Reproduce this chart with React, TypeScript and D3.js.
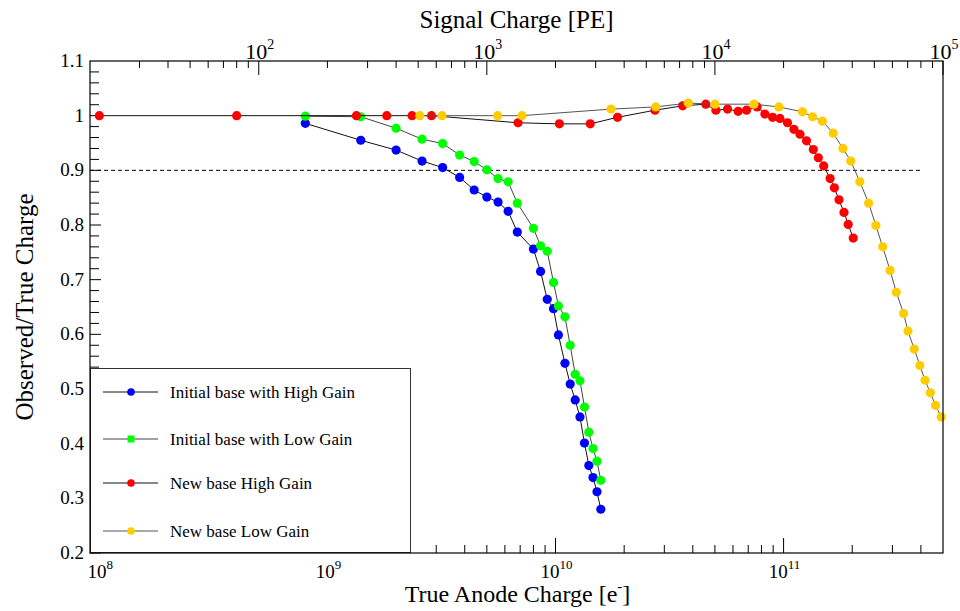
import * as d3 from "d3";
import React from "react";

// shared charge points for the initial base runs [e-]
const initialCharge = [8.0e8, 1.4e9, 2.0e9, 2.6e9, 3.2e9, 3.8e9, 4.4e9, 5.0e9, 5.6e9, 6.2e9, 6.8e9, 8.0e9, 8.6e9, 9.2e9, 9.8e9, 1.03e10, 1.1e10, 1.16e10, 1.22e10, 1.28e10, 1.34e10, 1.4e10, 1.46e10, 1.52e10, 1.58e10];
const initialHighGain = [0.986, 0.955, 0.937, 0.917, 0.905, 0.887, 0.864, 0.851, 0.842, 0.825, 0.787, 0.756, 0.715, 0.664, 0.647, 0.599, 0.547, 0.509, 0.48, 0.449, 0.401, 0.36, 0.338, 0.312, 0.28];
const initialLowGain = [0.999, 0.998, 0.977, 0.957, 0.949, 0.928, 0.916, 0.901, 0.885, 0.879, 0.84, 0.794, 0.762, 0.752, 0.695, 0.652, 0.632, 0.58, 0.527, 0.515, 0.467, 0.421, 0.391, 0.368, 0.333];

const newHighCharge = [1.0e8, 4.0e8, 1.34e9, 1.82e9, 2.35e9, 2.86e9, 6.85e9, 1.04e10, 1.42e10, 1.87e10, 2.73e10, 3.61e10, 4.56e10, 5.05e10, 5.68e10, 6.32e10, 6.88e10, 7.66e10, 8.28e10, 8.95e10, 9.64e10, 1.04e11, 1.11e11, 1.18e11, 1.26e11, 1.35e11, 1.42e11, 1.5e11, 1.6e11, 1.67e11, 1.75e11, 1.84e11, 1.92e11, 2.02e11];
const newHighGain = [1.0, 1.0, 1.0, 1.0, 1.0, 1.0, 0.987, 0.985, 0.985, 0.997, 1.01, 1.018, 1.021, 1.01, 1.012, 1.008, 1.01, 1.016, 1.003, 0.997, 0.995, 0.987, 0.975, 0.966, 0.954, 0.938, 0.923, 0.908, 0.885, 0.868, 0.846, 0.823, 0.801, 0.776];

const newLowCharge = [2.54e9, 3.18e9, 5.58e9, 7.13e9, 1.75e10, 2.75e10, 3.82e10, 5.0e10, 7.41e10, 9.54e10, 1.21e11, 1.34e11, 1.48e11, 1.65e11, 1.82e11, 1.97e11, 2.16e11, 2.36e11, 2.54e11, 2.72e11, 2.93e11, 3.12e11, 3.36e11, 3.51e11, 3.74e11, 3.96e11, 4.17e11, 4.4e11, 4.64e11, 4.91e11];
const newLowGain = [1.0, 1.0, 1.0, 1.0, 1.012, 1.016, 1.023, 1.021, 1.021, 1.016, 1.007, 0.998, 0.99, 0.968, 0.94, 0.917, 0.879, 0.84, 0.799, 0.76, 0.717, 0.677, 0.638, 0.606, 0.573, 0.543, 0.516, 0.493, 0.47, 0.449];

const legendNames = ["Initial base with High Gain", "Initial base with Low Gain", "New base High Gain", "New base Low Gain"];
const bottomDecades = [8, 9, 10, 11];
const topDecades = [2, 3, 4, 5];
const yLabels = [0.2, 0.3, 0.4, 0.5, 0.6, 0.7, 0.8, 0.9, 1, 1.1];
const thresholdLevel = 0.9;

const FONT = "'Liberation Serif', 'DejaVu Serif', serif";
const left = 90, right = 943, top = 61, bottom = 553;

function App() {
    const x = d3.scaleLog().domain([9.1e7, 5e11]).range([left, right]);
    const xTop = d3.scaleLog().domain([18.2, 1e5]).range([left, right]);
    const y = d3.scaleLinear().domain([0.2, 1.1]).range([bottom, top]);

    const series = [
        { name: legendNames[0], xs: initialCharge, ys: initialHighGain, color: "#0000ff", line: "#111", square: false },
        { name: legendNames[1], xs: initialCharge, ys: initialLowGain, color: "#00ff00", line: "#444", square: true },
        { name: legendNames[2], xs: newHighCharge, ys: newHighGain, color: "#ff0000", line: "#111", square: false },
        { name: legendNames[3], xs: newLowCharge, ys: newLowGain, color: "#ffcc00", line: "#555", square: false },
    ];

    const line = d3.line<[number, number]>().x(d => x(d[0])).y(d => y(d[1]));

    // log minor ticks
    const minorTicks = (sc: any, decades: number[]) => {
        const out: number[] = [];
        const [lo, hi] = sc.domain();
        for (let d = decades[0] - 1; d <= decades[decades.length - 1]; d++) {
            for (let m = 2; m <= 9; m++) {
                const v = m * Math.pow(10, d);
                if (v > lo && v < hi) out.push(v);
            }
        }
        return out;
    };
    const bottomMinor = minorTicks(x, bottomDecades);
    const topMinor = minorTicks(xTop, topDecades).filter(v => v > 25);
    const yMinor = d3.range(0, 46).map(i => 0.2 + i * 0.02).filter(v => v < 1.1);

    return (
        <svg width={960} height={611} style={{ position: "absolute", left: 0, top: 0, background: "#fff" }} fontFamily={FONT}>
            <rect x={0} y={0} width={960} height={611} fill="#fff" />

            {/* titles */}
            <text x={(left + right) / 2} y={28} fontSize={25} textAnchor="middle">Signal Charge [PE]</text>
            <text x={(left + right) / 2 + 1} y={602} fontSize={24} textAnchor="middle">
                True Anode Charge [e<tspan fontSize={15} dy={-11}>-</tspan><tspan dy={11}>]</tspan>
            </text>
            <text transform={`translate(33,${(top + bottom) / 2}) rotate(-90)`} fontSize={25} textAnchor="middle">Observed/True Charge</text>

            {/* left axis */}
            {yMinor.map((v, i) => (
                <line key={"ym" + i} x1={left} x2={left + (i % 5 === 0 ? 11 : 9)} y1={y(v)} y2={y(v)} stroke="#000" />
            ))}
            {yLabels.map(v => (
                <text key={"yl" + v} x={84} y={y(v) + 6} fontSize={19} textAnchor="end">{d3.format("~g")(v)}</text>
            ))}

            {/* bottom axis */}
            {bottomMinor.map((v, i) => (
                <line key={"bm" + i} x1={x(v)} x2={x(v)} y1={bottom} y2={bottom - 8} stroke="#000" />
            ))}
            {bottomDecades.map(d => (
                <g key={"bd" + d}>
                    <line x1={x(Math.pow(10, d))} x2={x(Math.pow(10, d))} y1={bottom} y2={bottom - 15} stroke="#000" />
                    <text x={x(Math.pow(10, d)) + 1} y={578} fontSize={19} textAnchor="middle">
                        10<tspan fontSize={13} dy={-9}>{d}</tspan>
                    </text>
                </g>
            ))}

            {/* top axis */}
            {topMinor.map((v, i) => (
                <line key={"tm" + i} x1={xTop(v)} x2={xTop(v)} y1={top} y2={top + 7} stroke="#000" />
            ))}
            {topDecades.map(d => (
                <g key={"td" + d}>
                    <line x1={xTop(Math.pow(10, d))} x2={xTop(Math.pow(10, d))} y1={top} y2={top + 14} stroke="#000" />
                    <text x={xTop(Math.pow(10, d)) + 1} y={59} fontSize={22} textAnchor="middle">
                        10<tspan fontSize={14} dy={-10}>{d}</tspan>
                    </text>
                </g>
            ))}

            {/* 0.9 threshold */}
            <line x1={x(9.1e7)} x2={x(4e11)} y1={y(thresholdLevel)} y2={y(thresholdLevel)} stroke="#000" strokeDasharray="4,3" />

            {/* series */}
            {series.map(s => {
                const pts = s.xs.map((v, i) => [v, s.ys[i]] as [number, number]);
                return (
                    <g key={s.name}>
                        <path d={line(pts) || ""} fill="none" stroke={s.line} strokeWidth={1} />
                        {pts.map((p, i) => (
                            <circle key={i} cx={x(p[0])} cy={y(p[1])} r={4.6} fill={s.color} />
                        ))}
                    </g>
                );
            })}

            {/* legend */}
            <rect x={90.5} y={368.5} width={320} height={184} fill="#fff" stroke="#333" />
            {series.map((s, i) => {
                const ly = [392, 439, 483, 531][i];
                return (
                    <g key={"lg" + i}>
                        <line x1={103} x2={158} y1={ly} y2={ly} stroke={s.line} />
                        {s.square
                            ? <rect x={127.5} y={ly - 3.5} width={7} height={7} fill={s.color} />
                            : <circle cx={131} cy={ly} r={3.8} fill={s.color} />}
                        <text x={170} y={ly + 5.5} fontSize={17}>{s.name}</text>
                    </g>
                );
            })}

            {/* frame */}
            <rect x={left} y={top} width={right - left} height={bottom - top} fill="none" stroke="#000" strokeWidth={1.2} />
        </svg>
    );
}

export default App;
